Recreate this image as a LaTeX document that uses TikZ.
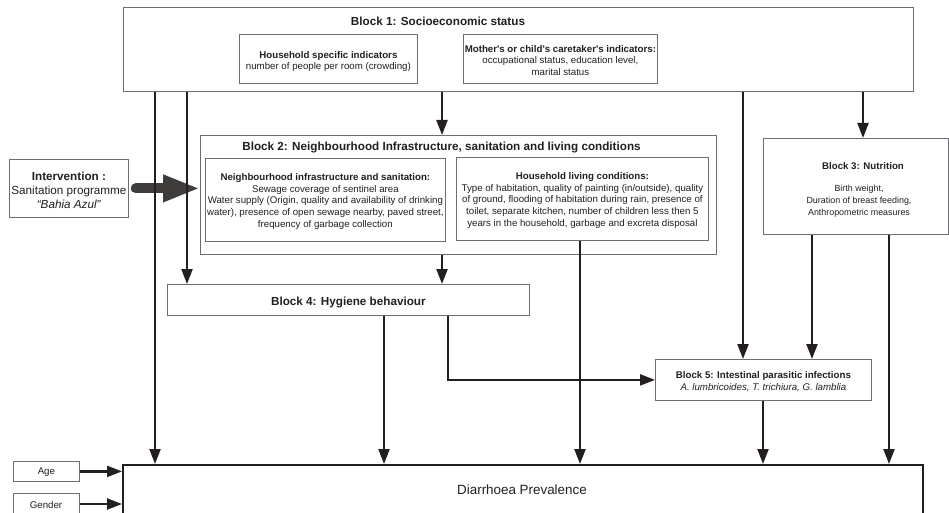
\documentclass[tikz,border=0pt]{standalone}
\usepackage{fontspec}
\setmainfont{Liberation Sans}[Ligatures=TeXOff]
\usetikzlibrary{arrows.meta}
\definecolor{ink}{HTML}{231F20}
\definecolor{frame}{HTML}{6D6E71}
\definecolor{bigc}{HTML}{3F3C3C}
\begin{document}
\begin{tikzpicture}[x=1pt,y=-1pt,
  box/.style={draw=frame, line width=0.8pt, inner sep=0pt, anchor=north west},
  txt/.style={text=ink, align=center, inner sep=0pt, font=\fontsize{9.7}{11.6}\selectfont},
  small/.style={text=ink, align=center, inner sep=0pt, font=\fontsize{8.9}{12}\selectfont},
  ttl/.style={text=ink, inner sep=0pt, font=\fontsize{11.7}{14}\selectfont\bfseries},
  arr/.style={draw=ink, line width=2.2pt, -{Triangle[length=15pt,width=11pt]}},
  bigarr/.style={draw=bigc, line width=10pt, line cap=round, -{Triangle[length=37pt,width=25pt]}},
]
\useasboundingbox (0,0) rectangle (949,513);
\clip (0,0) rectangle (949,513);
\fill[white] (0,0) rectangle (949,513);

% Block 1
\node[box, minimum width=790pt, minimum height=84pt] (b1) at (123,7) {};
\node[ttl] (b1t) at (438,21) {Block 1: Socioeconomic status};
\node[box, minimum width=178pt, minimum height=49pt] (hs) at (239,34) {};
\node[txt, font=\fontsize{9.7}{11.4}\selectfont] (hst) at ([yshift=-2.5pt]hs.center)
  {\textbf{Household specific indicators}\\number of people per room (crowding)};
\node[box, minimum width=194pt, minimum height=49pt] (mo) at (463,34) {};
\node[txt, font=\fontsize{9.7}{11.6}\selectfont] (mot) at ([yshift=-1.5pt]mo.center)
  {\textbf{Mother's or child's caretaker's indicators:}\\occupational status, education level,\\marital status};

% Block 2
\node[box, minimum width=516pt, minimum height=119pt] (b2) at (200,135) {};
\node[ttl] (b2t) at (441.5,148) {Block 2: Neighbourhood Infrastructure, sanitation and living conditions};
\node[box, minimum width=240pt, minimum height=83pt] (nb) at (205,158) {};
\node[txt, font=\fontsize{9.7}{11.8}\selectfont] (nbt) at ([yshift=-1.5pt]nb.center)
  {\textbf{Neighbourhood infrastructure and sanitation:}\\Sewage coverage of sentinel area\\Water supply (Origin, quality and availability of drinking\\water), presence of open sewage nearby, paved street,\\frequency of garbage collection};
\node[box, minimum width=252pt, minimum height=83pt] (hl) at (456,157) {};
\node[txt, font=\fontsize{9.7}{11.6}\selectfont] (hlt) at ([yshift=-1.5pt]hl.center)
  {\textbf{Household living conditions:}\\Type of habitation, quality of painting (in/outside), quality\\of ground, flooding of habitation during rain, presence of\\toilet, separate kitchen, number of children less then 5\\years in the household, garbage and excreta disposal};

% Intervention
\node[box, minimum width=119pt, minimum height=58pt] (iv) at (9,159) {};
\node[txt, font=\fontsize{11.7}{14}\selectfont] (ivt) at ([yshift=-1.5pt]iv.center)
  {\textbf{Intervention :}\\Sanitation programme\\\textit{“Bahia Azul”}};

% Block 3
\node[box, minimum width=185pt, minimum height=96pt] (b3) at (763,138) {};
\node[text=ink, inner sep=0pt, font=\fontsize{9.7}{11.6}\selectfont\bfseries] (b3t) at (863,166) {Block 3: Nutrition};
\node[small] (b3b) at (859,201) {Birth weight,\\Duration of breast feeding,\\Anthropometric measures};

% Block 4
\node[box, minimum width=362pt, minimum height=31pt] (b4) at (167,284) {};
\node[ttl] (b4t) at ([yshift=-2.5pt]b4.center) {Block 4: Hygiene behaviour};

% Block 5
\node[box, minimum width=216pt, minimum height=41pt] (b5) at (655,359) {};
\node[txt, font=\fontsize{9.7}{11.8}\selectfont] (b5t) at ([yshift=-2pt]b5.center)
  {\textbf{Block 5: Intestinal parasitic infections}\\\textit{A. lumbricoides, T. trichiura, G. lamblia}};

% Outcome
\node[box, draw=ink, line width=2pt, minimum width=800pt, minimum height=60pt] (dp) at (122,464) {};
\node[text=ink, inner sep=0pt, font=\fontsize{13.4}{16}\selectfont] (dpt) at (522,490) {Diarrhoea Prevalence};

% Age / Gender
\node[box, minimum width=66pt, minimum height=20pt] (age) at (13,461) {};
\node[txt] (aget) at ([yshift=-1pt]age.center) {Age};
\node[box, minimum width=66pt, minimum height=26pt] (gen) at (13,493) {};
\coordinate (genc) at (46,504);
\node[txt] (gent) at ([yshift=-1pt]genc) {Gender};

% column coordinates
\coordinate (cA) at (155,0);
\coordinate (cB) at (187,0);
\coordinate (cC) at (442,0);
\coordinate (cD) at (743,0);
\coordinate (cE) at (863,0);
\coordinate (cF) at (580,0);
\coordinate (cG) at (384,0);
\coordinate (cH) at (448,0);
\coordinate (cI) at (812,0);
\coordinate (cJ) at (889,0);
\coordinate (cK) at (763,0);

% big intervention arrow (below the thin lines)
\draw[bigarr] ([xshift=7pt]iv.east) -- (b2.west |- iv.east);

% connectors
\draw[arr] (cA |- b1.south) -- (cA |- dp.north);
\draw[arr] (cB |- b1.south) -- (cB |- b4.north);
\draw[arr] (cC |- b1.south) -- (cC |- b2.north);
\draw[arr] (cD |- b1.south) -- (cD |- b5.north);
\draw[arr] (cE |- b1.south) -- (cE |- b3.north);
\draw[arr] (cC |- b2.south) -- (cC |- b4.north);
\draw[arr] (cF |- hl.south) -- (cF |- dp.north);
\draw[arr] (cG |- b4.south) -- (cG |- dp.north);
\draw[arr] (cH |- b4.south) |- (b5.west);
\draw[arr] (cI |- b3.south) -- (cI |- b5.north);
\draw[arr] (cJ |- b3.south) -- (cJ |- dp.north);
\draw[arr] (cK |- b5.south) -- (cK |- dp.north);
\draw[arr] (age.east) -- (dp.west |- age.east);
\draw[arr] (genc -| gen.east) -- (dp.west |- genc);
\end{tikzpicture}
\end{document}
